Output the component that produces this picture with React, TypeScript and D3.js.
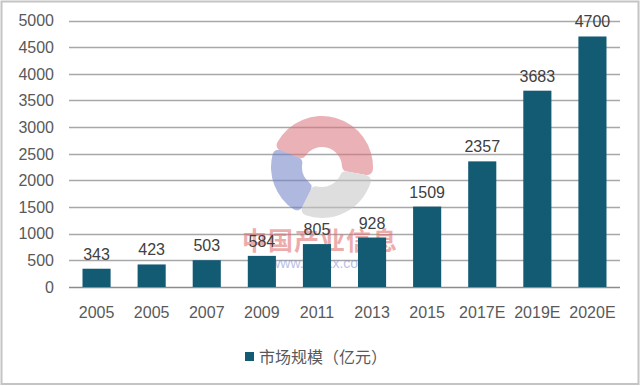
import React from 'react';
import * as d3 from 'd3';

const categories = ['2005', '2005', '2007', '2009', '2011', '2013', '2015', '2017E', '2019E', '2020E'];
const marketSize = [343, 423, 503, 584, 805, 928, 1509, 2357, 3683, 4700];
const yTicks = [0, 500, 1000, 1500, 2000, 2500, 3000, 3500, 4000, 4500, 5000];
const seriesName = '市场规模（亿元）';

const W = 640;
const H = 386;
const margin = { top: 20.5, right: 20, bottom: 99, left: 69 };
const barColor = '#135a73';
const latin = '"Liberation Sans", Arial, sans-serif';
const cjk = '"Noto Sans CJK SC", "Liberation Sans", sans-serif';

const App = () => {
  const svgRef = React.useRef<SVGSVGElement>(null);

  React.useEffect(() => {
    const svg = d3.select(svgRef.current);
    svg.selectAll('*').remove();

    const x = d3.scaleBand<number>()
      .domain(categories.map((_, i) => i))
      .range([margin.left, W - margin.right])
      .paddingInner(0.49)
      .paddingOuter(0.245);

    const y = d3.scaleLinear()
      .domain([0, 5000])
      .range([H - margin.bottom, margin.top]);

    // outer frame
    svg.append('rect')
      .attr('x', 1.5).attr('y', 1.5)
      .attr('width', W - 3).attr('height', H - 3.5)
      .attr('fill', '#fff')
      .attr('stroke', '#c4c4c4')
      .attr('stroke-width', 2);

    // grid
    svg.append('g')
      .selectAll('line')
      .data(yTicks)
      .join('line')
      .attr('x1', margin.left)
      .attr('x2', W - margin.right)
      .attr('y1', d => Math.round(y(d)) + 0.5)
      .attr('y2', d => Math.round(y(d)) + 0.5)
      .attr('stroke', d => (d === 0 ? '#8c8c8c' : '#a8a8a8'))
      .attr('stroke-width', 1.4);

    // y labels
    svg.append('g')
      .selectAll('text')
      .data(yTicks)
      .join('text')
      .attr('x', 54)
      .attr('y', d => y(d))
      .attr('dy', '0.36em')
      .attr('text-anchor', 'end')
      .attr('font-family', latin)
      .attr('font-size', 16)
      .attr('fill', '#595959')
      .text(d => d);

    // watermark
    const wm = svg.append('g')
      .attr('transform', 'translate(322,167)')
      .attr('opacity', 0.55);
    const arc = d3.arc<any>().innerRadius(20).outerRadius(51).cornerRadius(6);
    const parts = [
      { a0: -1.2, a1: 1.75, c: '#d9747c' },
      { a0: 1.75, a1: 3.6, c: '#c4c4c4' },
      { a0: 3.6, a1: 5.1, c: '#6f80c8' },
    ];
    wm.selectAll('path')
      .data(parts)
      .join('path')
      .attr('d', d => arc({ startAngle: d.a0, endAngle: d.a1 }))
      .attr('fill', d => d.c);
    svg.append('text')
      .attr('x', 320).attr('y', 250)
      .attr('text-anchor', 'middle')
      .attr('font-family', cjk)
      .attr('font-size', 25)
      .attr('font-weight', 'bold')
      .attr('fill', '#e06a6a')
      .attr('opacity', 0.55)
      .attr('letter-spacing', 1)
      .text('中国产业信息');
    svg.append('text')
      .attr('x', 320).attr('y', 268)
      .attr('text-anchor', 'middle')
      .attr('font-family', latin)
      .attr('font-size', 14)
      .attr('fill', '#7f8fd0')
      .attr('opacity', 0.55)
      .text('www.chyxx.com');

    // bars
    svg.append('g')
      .selectAll('rect')
      .data(marketSize)
      .join('rect')
      .attr('x', (_, i) => x(i)!)
      .attr('y', d => y(d))
      .attr('width', x.bandwidth())
      .attr('height', d => y(0) - y(d))
      .attr('fill', barColor);

    // value labels
    svg.append('g')
      .selectAll('text')
      .data(marketSize)
      .join('text')
      .attr('x', (_, i) => x(i)! + x.bandwidth() / 2)
      .attr('y', d => y(d) - 9)
      .attr('text-anchor', 'middle')
      .attr('font-family', latin)
      .attr('font-size', 16)
      .attr('fill', '#404040')
      .text(d => d);

    // x labels
    svg.append('g')
      .selectAll('text')
      .data(categories)
      .join('text')
      .attr('x', (_, i) => x(i)! + x.bandwidth() / 2)
      .attr('y', 318)
      .attr('text-anchor', 'middle')
      .attr('font-family', latin)
      .attr('font-size', 16)
      .attr('fill', '#595959')
      .text(d => d);

    // legend
    svg.append('rect')
      .attr('x', 245).attr('y', 352)
      .attr('width', 9).attr('height', 9)
      .attr('fill', barColor);
    svg.append('text')
      .attr('x', 259).attr('y', 363)
      .attr('font-family', cjk)
      .attr('font-size', 16)
      .attr('fill', '#595959')
      .text(seriesName);
  }, []);

  return (
    <div style={{ position: 'fixed', left: 0, top: 0 }}>
      <svg ref={svgRef} width={W} height={H} style={{ display: 'block' }} />
    </div>
  );
};

export default App;
